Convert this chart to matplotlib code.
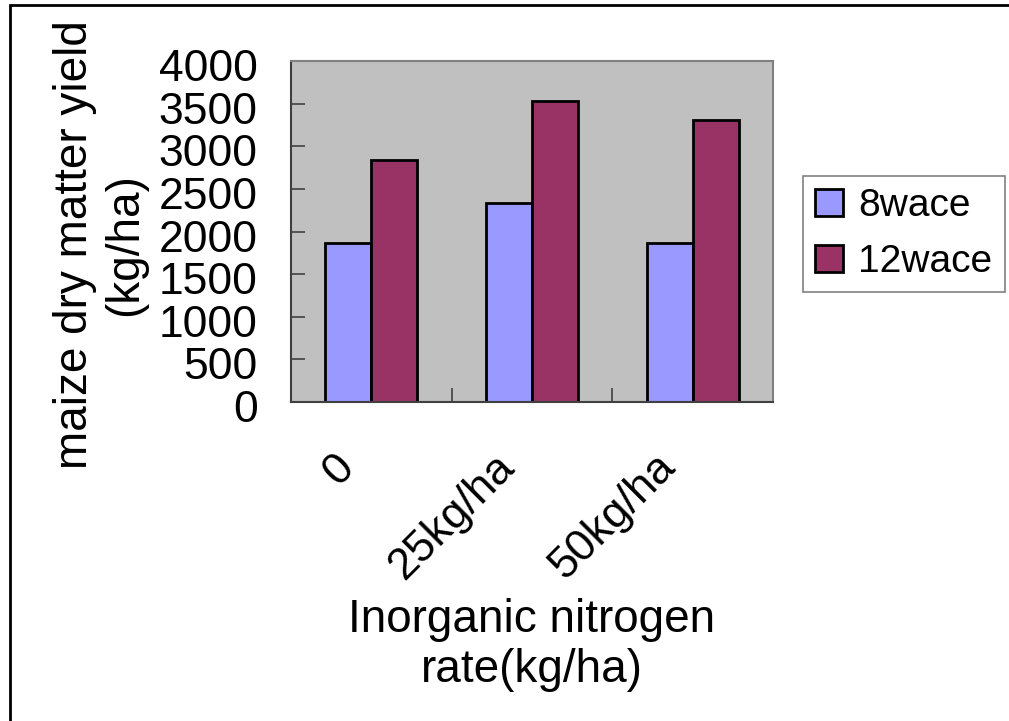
import numpy as np
import matplotlib
matplotlib.use("Agg")
import matplotlib.pyplot as plt
import matplotlib.patches as mpatches
import matplotlib.transforms as mtrans

# values
categories = ["0", "25kg/ha", "50kg/ha"]
series_names = ["8wace", "12wace"]
yield_8wace = [1870, 2340, 1870]
yield_12wace = [2840, 3530, 3310]
y_ticks = [0, 500, 1000, 1500, 2000, 2500, 3000, 3500, 4000]

plt.rcParams["font.family"] = ["Liberation Sans", "DejaVu Sans"]

fig = plt.figure(figsize=(10.09, 7.21), dpi=100)
ax = fig.add_axes([291 / 1009, 1 - 402 / 721, (773 - 291) / 1009, (402 - 61) / 721])

x = np.arange(len(categories))
w = 1 / 3.5  # excel style gap width 150%
ax.bar(x - w / 2, yield_8wace, width=w, color="#9999FF", edgecolor="black", linewidth=2, label=series_names[0])
ax.bar(x + w / 2, yield_12wace, width=w, color="#993366", edgecolor="black", linewidth=2, label=series_names[1])

ax.set_facecolor("#C0C0C0")
ax.set_xlim(-0.5, len(categories) - 0.5)
ax.set_ylim(0, 4000)
ax.set_yticks(y_ticks)
ax.tick_params(axis="y", direction="in", length=10, width=1.2, pad=24, labelsize=32, color="#404040")
yshift = mtrans.ScaledTranslation(0, -4 / 100, fig.dpi_scale_trans)
for lbl in ax.get_yticklabels():
    lbl.set_transform(lbl.get_transform() + yshift)

# category labels at centres, tick marks at the boundaries
ax.set_xticks(x)
ax.set_xticklabels(categories, rotation=45, ha="right", rotation_mode="anchor", fontsize=32)
ax.set_xticks(np.arange(len(categories) + 1) - 0.5, minor=True)
ax.tick_params(axis="x", which="major", length=0, pad=32)
ax.tick_params(axis="x", which="minor", direction="in", length=10, width=1.2, color="#404040")
xshift = mtrans.ScaledTranslation(-38 / 100, 0, fig.dpi_scale_trans)
for lbl in ax.get_xticklabels():
    lbl.set_transform(lbl.get_transform() + xshift)

for side in ["left", "bottom"]:
    ax.spines[side].set_color("#404040")
    ax.spines[side].set_linewidth(1.5)
for side in ["top", "right"]:
    ax.spines[side].set_color("#808080")
    ax.spines[side].set_linewidth(1.5)

fig.text(100 / 1009, 1 - 245 / 721, "maize dry matter yield\n(kg/ha)", rotation=90,
         ha="center", va="center", multialignment="center", fontsize=33)
fig.text(532 / 1009, 1 - 645 / 721, "Inorganic nitrogen\nrate(kg/ha)",
         ha="center", va="center", multialignment="center", fontsize=33)

leg = fig.legend(loc="upper left", bbox_to_anchor=(803 / 1009, 1 - 176 / 721), fontsize=28,
                 frameon=True, fancybox=False, edgecolor="#808080", framealpha=1,
                 handlelength=0.7, handleheight=0.7, handletextpad=0.4,
                 labelspacing=0.5, borderpad=0.32, borderaxespad=0)
leg.get_frame().set_linewidth(1.2)

# outer chart border (only left/top edges fall inside the image)
fig.patches.append(mpatches.Rectangle((10 / 1009, -0.05), 1.1, 1 - 5 / 721 + 0.05,
                                      transform=fig.transFigure, fill=False,
                                      edgecolor="black", linewidth=2, clip_on=False))

fig.savefig("out.png", dpi=100)
